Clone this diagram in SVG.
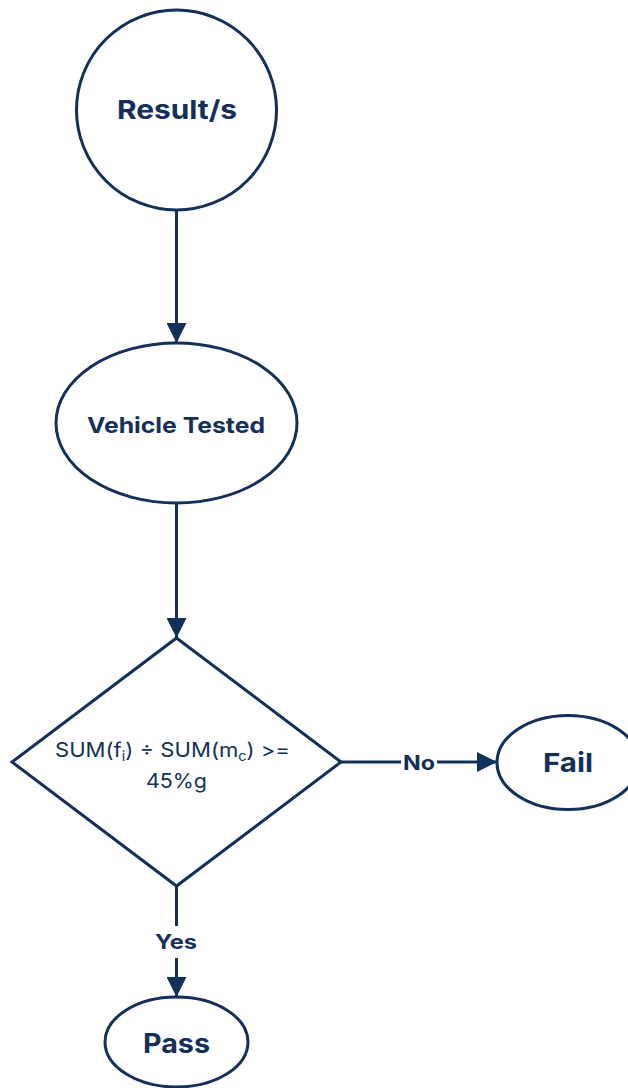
<svg xmlns="http://www.w3.org/2000/svg" width="628" height="1088" viewBox="0 0 628 1088">
<style>
.shape{fill:#ffffff;stroke:#12305A;stroke-width:3}
.conn{fill:none;stroke:#12305A;stroke-width:3}
.lbl{font-family:Inter,"Liberation Sans",sans-serif;fill:#12305A;text-anchor:middle}
.b{font-weight:bold}
</style>
<defs>
<marker id="arr" markerUnits="userSpaceOnUse" viewBox="0 0 20 20" refX="20" refY="10" markerWidth="20" markerHeight="20" orient="auto">
<path d="M0,0 L20,10 L0,20 Z" fill="#12305A"/>
</marker>
</defs>
<rect width="628" height="1088" fill="#ffffff"/>
<g id="connectors">
<line class="conn" x1="176.5" y1="210" x2="176.5" y2="343" marker-end="url(#arr)"/>
<line class="conn" x1="176.5" y1="503" x2="176.5" y2="638" marker-end="url(#arr)"/>
<line class="conn" x1="341" y1="762" x2="401" y2="762"/>
<line class="conn" x1="437" y1="762" x2="497" y2="762" marker-end="url(#arr)"/>
<text class="lbl b" x="419" y="770" font-size="20" textLength="32" lengthAdjust="spacingAndGlyphs">No</text>
<line class="conn" x1="176.5" y1="886" x2="176.5" y2="926"/>
<line class="conn" x1="176.5" y1="958" x2="176.5" y2="997" marker-end="url(#arr)"/>
<text class="lbl b" x="176" y="949" font-size="20" textLength="42" lengthAdjust="spacingAndGlyphs">Yes</text>
</g>
<g id="result">
<circle class="shape" cx="176.5" cy="110" r="100"/>
<text class="lbl b" x="177" y="119" font-size="26" textLength="120" lengthAdjust="spacingAndGlyphs">Result/s</text>
</g>
<g id="vehicle">
<ellipse class="shape" cx="176.5" cy="423" rx="120.5" ry="80"/>
<text class="lbl b" x="176" y="433" font-size="22" textLength="178" lengthAdjust="spacingAndGlyphs">Vehicle Tested</text>
</g>
<g id="decision">
<polygon class="shape" points="176.5,638 341,762 176.5,886 12,762"/>
<text class="lbl" x="172.5" y="757" font-size="20" textLength="235" lengthAdjust="spacingAndGlyphs">SUM(f<tspan font-size="13" dy="4">i</tspan><tspan dy="-4">) ÷ SUM(m</tspan><tspan font-size="13" dy="4">c</tspan><tspan dy="-4">) &gt;=</tspan></text>
<text class="lbl" x="176.5" y="788" font-size="20" textLength="61" lengthAdjust="spacingAndGlyphs">45%g</text>
</g>
<g id="fail">
<ellipse class="shape" cx="568" cy="762.5" rx="71" ry="47"/>
<text class="lbl b" x="568" y="772" font-size="26" textLength="50" lengthAdjust="spacingAndGlyphs">Fail</text>
</g>
<g id="pass">
<ellipse class="shape" cx="176.5" cy="1042" rx="71.5" ry="45"/>
<text class="lbl b" x="176.5" y="1053" font-size="27" textLength="67" lengthAdjust="spacingAndGlyphs">Pass</text>
</g>
</svg>
